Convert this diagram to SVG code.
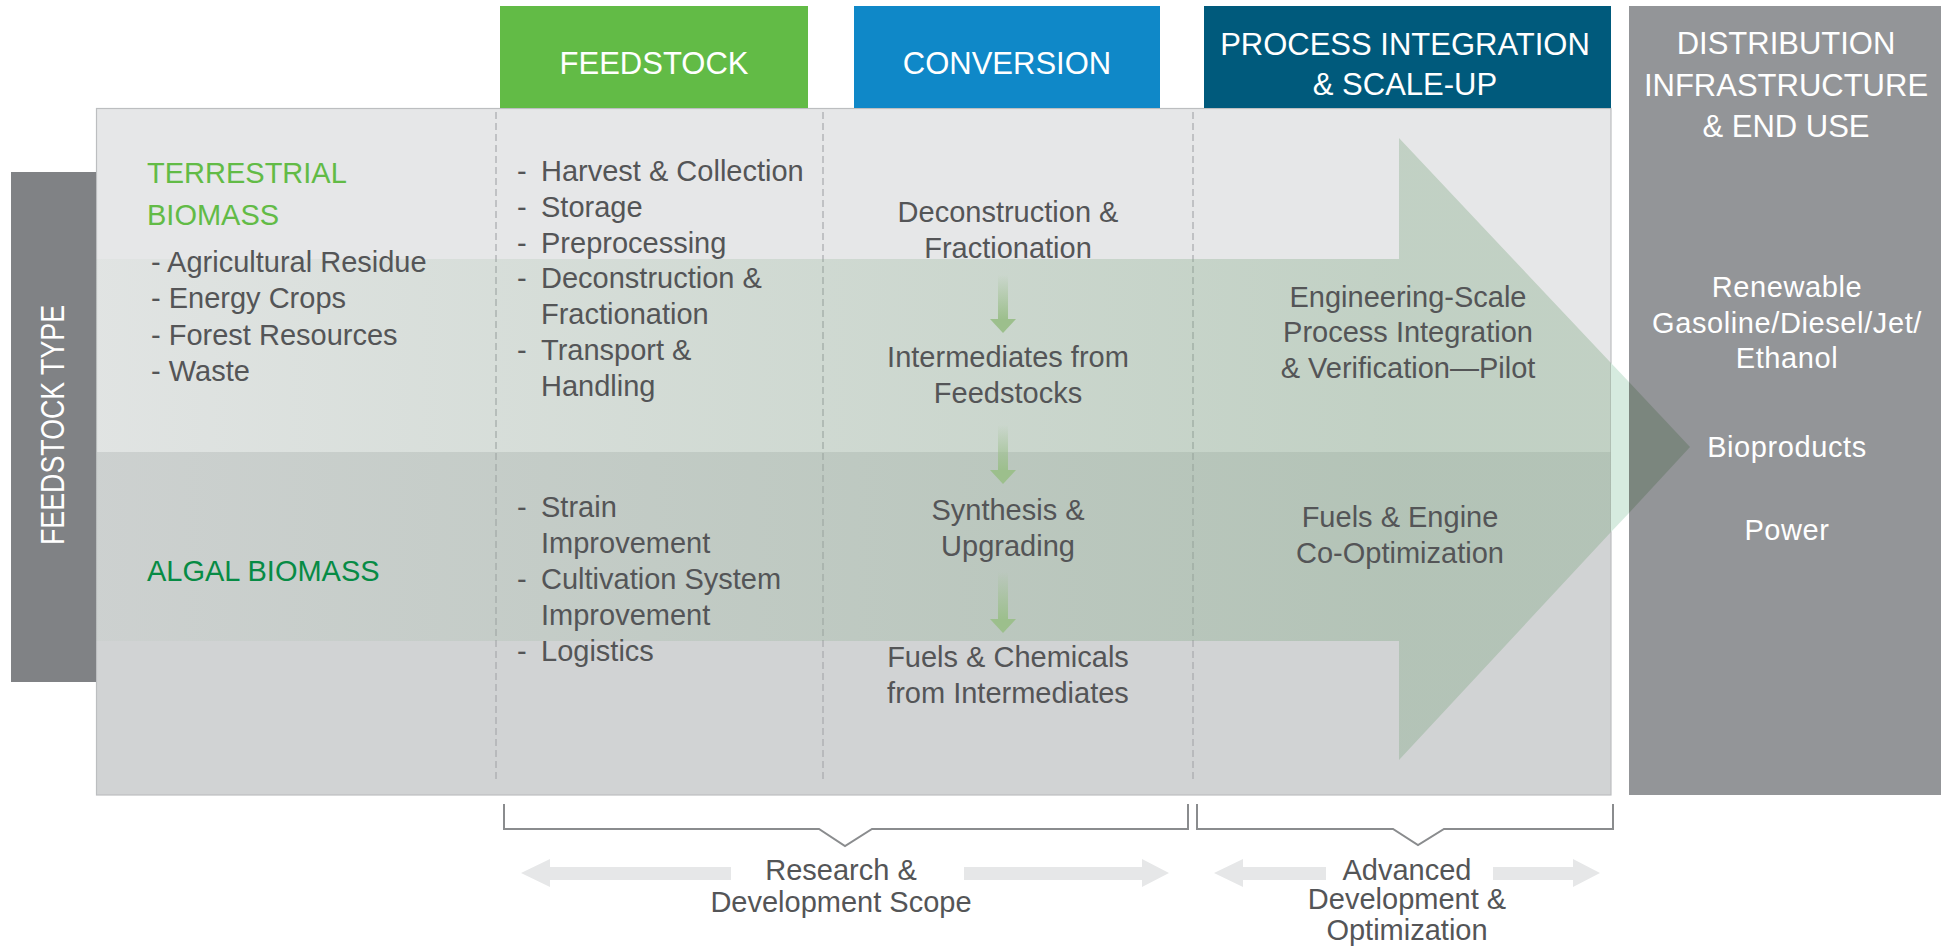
<svg xmlns="http://www.w3.org/2000/svg" width="1941" height="947" viewBox="0 0 1941 947">
<defs>
<style>
.t{font-family:'Liberation Sans',Arial,sans-serif;font-size:29px;fill:#545557}
.c{text-anchor:middle}
.h{font-family:'Liberation Sans',Arial,sans-serif;font-size:31px;fill:#ffffff;text-anchor:middle}
.w{font-family:'Liberation Sans',Arial,sans-serif;font-size:29px;fill:#ffffff;text-anchor:middle;letter-spacing:0.6px}
.g1{font-family:'Liberation Sans',Arial,sans-serif;font-size:29px;fill:#62bb46}
.g2{font-family:'Liberation Sans',Arial,sans-serif;font-size:29px;fill:#078b45}
.dash{stroke:#a7a9ac;stroke-width:1.2;stroke-dasharray:7 4;fill:none}
.br{fill:none;stroke:#8a8c8e;stroke-width:2}
.da{fill:#e6e7e8}
.sh{fill:url(#sg)}
.hd{fill:#9cbf8c}
</style>
<linearGradient id="bandG" gradientUnits="userSpaceOnUse" x1="96" y1="0" x2="1399" y2="0">
<stop offset="0" stop-color="#7aa57e" stop-opacity="0.05"/>
<stop offset="1" stop-color="#7aa57e" stop-opacity="0.34"/>
</linearGradient>
<linearGradient id="sg" x1="0" y1="0" x2="0" y2="1">
<stop offset="0" stop-color="#9cbf8c" stop-opacity="0"/>
<stop offset="1" stop-color="#9cbf8c"/>
</linearGradient>
<clipPath id="panelClip"><rect x="96" y="109" width="1515" height="686"/></clipPath>
</defs>

<g id="panel">
<rect x="96" y="109" width="1515" height="343" fill="#e6e7e8"/>
<rect x="96" y="452" width="1515" height="343" fill="#d1d3d4"/>
<rect x="96.5" y="108.5" width="1514.5" height="686.5" fill="none" stroke="#bcbec0" stroke-width="1.2"/>
<line class="dash" x1="496" y1="112" x2="496" y2="782"/>
<line class="dash" x1="823" y1="112" x2="823" y2="782"/>
<line class="dash" x1="1193" y1="112" x2="1193" y2="782"/>
</g>

<g id="distribution">
<rect x="1629" y="6" width="312" height="789" fill="#939598"/>
<text class="h" x="1786" y="54">DISTRIBUTION</text>
<text class="h" x="1786" y="96">INFRASTRUCTURE</text>
<text class="h" x="1786" y="137">&amp; END USE</text>
</g>

<g id="big-arrow">
<path d="M96,259 L1399,259 L1399,138 L1690,447 L1399,760 L1399,641 L96,641 Z" fill="url(#bandG)" clip-path="url(#panelClip)"/>
<polygon points="1611,363 1629,382 1629,513 1611,532" fill="#d6ebdf"/>
<polygon points="1629,382 1690,447 1629,513" fill="#7b867e"/>
</g>

<g id="distribution-items">
<text class="w" x="1787" y="297">Renewable</text>
<text class="w" x="1787" y="333">Gasoline/Diesel/Jet/</text>
<text class="w" x="1787" y="368">Ethanol</text>
<text class="w" x="1787" y="457">Bioproducts</text>
<text class="w" x="1787" y="540">Power</text>
</g>

<g id="sidebar">
<rect x="11" y="172" width="85" height="510" fill="#808285"/>
<text transform="translate(64,425) rotate(-90)" text-anchor="middle" font-family="'Liberation Sans',Arial,sans-serif" font-size="34" fill="#ffffff" textLength="240" lengthAdjust="spacingAndGlyphs">FEEDSTOCK TYPE</text>
</g>

<g id="header-feedstock">
<rect x="500" y="6" width="308" height="102" fill="#62bb46"/>
<text class="h" x="654" y="74">FEEDSTOCK</text>
</g>
<g id="header-conversion">
<rect x="854" y="6" width="306" height="102" fill="#0f88c8"/>
<text class="h" x="1007" y="74">CONVERSION</text>
</g>
<g id="header-process">
<rect x="1204" y="6" width="407" height="102" fill="#005a7c"/>
<text class="h" x="1405" y="55">PROCESS INTEGRATION</text>
<text class="h" x="1405" y="95">&amp; SCALE-UP</text>
</g>

<g id="terrestrial">
<text class="g1" x="147" y="183">TERRESTRIAL</text>
<text class="g1" x="147" y="225">BIOMASS</text>
<text class="t" x="151" y="272">- Agricultural Residue</text>
<text class="t" x="151" y="308">- Energy Crops</text>
<text class="t" x="151" y="345">- Forest Resources</text>
<text class="t" x="151" y="381">- Waste</text>
</g>

<g id="algal">
<text class="g2" x="147" y="581">ALGAL BIOMASS</text>
</g>

<g id="feedstock-terrestrial">
<text class="t" x="517" y="181">-</text><text class="t" x="541" y="181">Harvest &amp; Collection</text>
<text class="t" x="517" y="217">-</text><text class="t" x="541" y="217">Storage</text>
<text class="t" x="517" y="253">-</text><text class="t" x="541" y="253">Preprocessing</text>
<text class="t" x="517" y="288">-</text><text class="t" x="541" y="288">Deconstruction &amp;</text>
<text class="t" x="541" y="324">Fractionation</text>
<text class="t" x="517" y="360">-</text><text class="t" x="541" y="360">Transport &amp;</text>
<text class="t" x="541" y="396">Handling</text>
</g>

<g id="feedstock-algal">
<text class="t" x="517" y="517">-</text><text class="t" x="541" y="517">Strain</text>
<text class="t" x="541" y="553">Improvement</text>
<text class="t" x="517" y="589">-</text><text class="t" x="541" y="589">Cultivation System</text>
<text class="t" x="541" y="625">Improvement</text>
<text class="t" x="517" y="661">-</text><text class="t" x="541" y="661">Logistics</text>
</g>

<g id="conv-deconstruction">
<text class="t c" x="1008" y="222">Deconstruction &amp;</text>
<text class="t c" x="1008" y="258">Fractionation</text>
</g>
<g id="conv-intermediates">
<text class="t c" x="1008" y="367">Intermediates from</text>
<text class="t c" x="1008" y="403">Feedstocks</text>
</g>
<g id="conv-synthesis">
<text class="t c" x="1008" y="520">Synthesis &amp;</text>
<text class="t c" x="1008" y="556">Upgrading</text>
</g>
<g id="conv-fuels">
<text class="t c" x="1008" y="667">Fuels &amp; Chemicals</text>
<text class="t c" x="1008" y="703">from Intermediates</text>
</g>

<g id="process-pilot">
<text class="t c" x="1408" y="307">Engineering-Scale</text>
<text class="t c" x="1408" y="342">Process Integration</text>
<text class="t c" x="1408" y="378">&amp; Verification—Pilot</text>
</g>
<g id="process-coopt">
<text class="t c" x="1400" y="527">Fuels &amp; Engine</text>
<text class="t c" x="1400" y="563">Co-Optimization</text>
</g>

<g id="connectors">
<rect class="sh" x="998" y="275" width="10" height="45"/>
<polygon class="hd" points="990,319 1016,319 1003,333"/>
<rect class="sh" x="998" y="425" width="10" height="46"/>
<polygon class="hd" points="990,470 1016,470 1003,484"/>
<rect class="sh" x="998" y="572" width="10" height="48"/>
<polygon class="hd" points="990,619 1016,619 1003,633"/>
<path class="br" d="M504,804 L504,829 L819,829 L845,846 L872,829 L1188,829 L1188,804"/>
<path class="br" d="M1197,804 L1197,829 L1393,829 L1418,845 L1444,829 L1613,829 L1613,804"/>
<polygon class="da" points="521,873 550,859 550,867 731,867 731,880 550,880 550,887"/>
<polygon class="da" points="1169,873 1142,859 1142,867 964,867 964,880 1142,880 1142,887"/>
<polygon class="da" points="1214,873 1243,859 1243,867 1326,867 1326,880 1243,880 1243,887"/>
<polygon class="da" points="1600,873 1573,859 1573,867 1493,867 1493,880 1573,880 1573,887"/>
</g>

<g id="scope-rd">
<text class="t c" x="841" y="880">Research &amp;</text>
<text class="t c" x="841" y="912">Development Scope</text>
</g>
<g id="scope-adv">
<text class="t c" x="1407" y="880" font-size="28">Advanced</text>
<text class="t c" x="1407" y="909" font-size="28">Development &amp;</text>
<text class="t c" x="1407" y="940" font-size="28">Optimization</text>
</g>
</svg>
